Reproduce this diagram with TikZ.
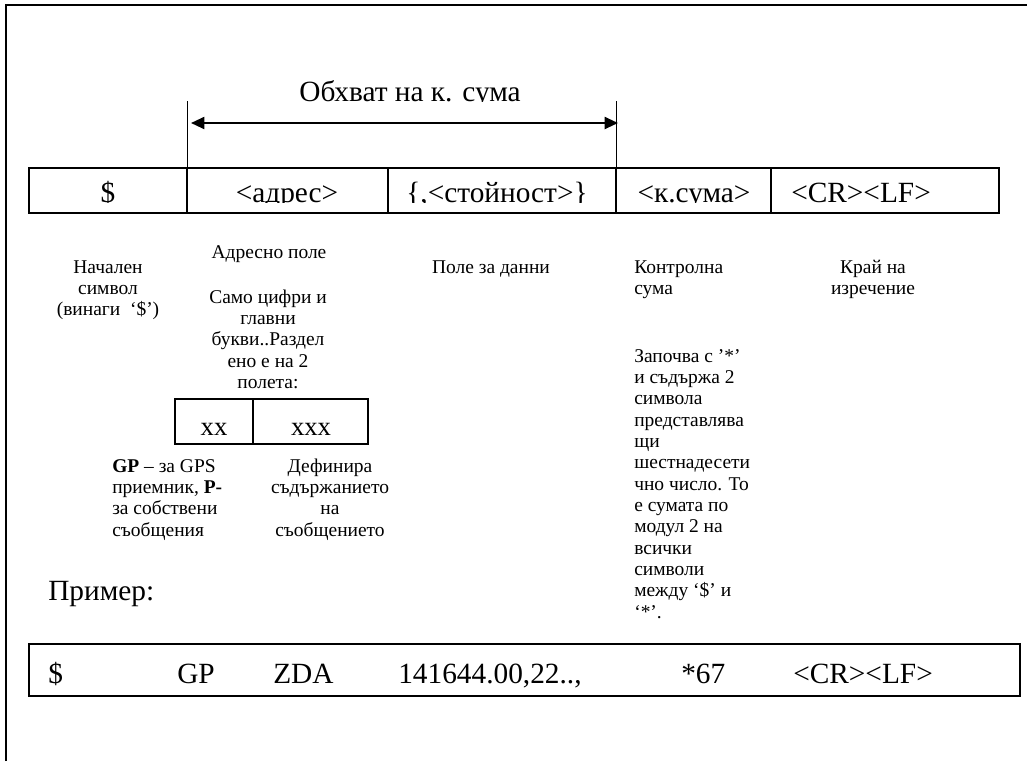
\documentclass[tikz,border=0pt]{standalone}
\usepackage{fontspec}
\setmainfont{Liberation Serif}
\usetikzlibrary{arrows.meta}

% font sizes used in the figure
\newcommand\fieldfont{\fontsize{22pt}{26pt}\selectfont}
\newcommand\bigfont{\fontsize{22pt}{26pt}\selectfont}
\newcommand\notefont{\fontsize{14.6pt}{16pt}\selectfont}
\newcommand\subfont{\fontsize{20pt}{24pt}\selectfont}

% multi-line blocks whose baseline is that of the first line
\newcommand\linesC[1]{\begin{tabular}[t]{@{}c@{}}#1\end{tabular}}
\newcommand\linesL[1]{\begin{tabular}[t]{@{}l@{}}#1\end{tabular}}

\tikzset{
  frameline/.style={line width=1.5pt},
  fieldbox/.style={line width=1.1pt},
  samplebox/.style={line width=1.5pt},
  spanline/.style={line width=0.75pt},
  spanarrow/.style={line width=1.5pt,
    {Triangle[length=10pt,width=9pt]}-{Triangle[length=10pt,width=9pt]}},
  fieldtext/.style={font=\fieldfont, inner sep=0pt, anchor=base},
  bigtext/.style={font=\bigfont, inner sep=0pt, anchor=base west},
  note/.style={font=\notefont, inner sep=0pt, anchor=base},
  subtext/.style={font=\subfont, inner sep=0pt, anchor=base},
}

\begin{document}
\begin{tikzpicture}[x=0.75pt,y=-0.75pt]
\useasboundingbox (0,0) rectangle (1034,761);

% page frame (open on the right and at the bottom)
\draw[frameline] (6,761) -- (6,5) -- (1027,5);

% checksum span marker
\coordinate (spanLtop) at (187,101);
\coordinate (spanLbot) at (187,168);
\coordinate (spanRtop) at (616,101);
\coordinate (spanRbot) at (616,168);
\coordinate (arrowL) at (191,123);
\coordinate (arrowR) at (618,123);
\draw[spanline] (spanLtop) -- (spanLbot);
\draw[spanline] (spanRtop) -- (spanRbot);
\draw[spanarrow] (arrowL) -- (arrowR);
\begin{scope}
  \clip (150,60) rectangle (700,101.5);
  \node[font=\bigfont, inner sep=0pt, anchor=base] (spanlabel) at (410,101) {Обхват на к. сума};
\end{scope}

% sentence fields
\draw[fieldbox] (29,168) rectangle (187,213);
\draw[fieldbox] (187,168) rectangle (388,213);
\draw[fieldbox] (388,168) rectangle (616,213);
\draw[fieldbox] (616,168) rectangle (771,213);
\draw[fieldbox] (771,168) rectangle (999,213);
\begin{scope}
  \clip (29,168) rectangle (999,202.5);
  \node[fieldtext] (fstart) at (108,202) {\$};
  \node[fieldtext] (faddr) at (287,202) {<адрес>};
  \node[fieldtext] (fdata) at (497,202) {\{,<стойност>\}};
  \node[fieldtext] (fsum) at (694,202) {<к.сума>};
  \node[fieldtext, anchor=base west] (fend) at (791,202) {<CR><LF>};
\end{scope}

% field descriptions
\node[note] (dstart) at (108,273) {\linesC{Начален\\символ\\(винаги~ ‘\$’)}};
\node[note] (daddr) at (269,258) {Адресно поле};
\node[note] (daddrinfo) at (268,303) {\linesC{Само цифри и\\главни\\букви..Раздел\\ено е на 2\\полета:}};
\node[note] (ddata) at (491,273) {Поле за данни};
\node[note, anchor=base west] (dsum) at (634,273) {\linesL{Контролна\\сума}};
\node[note, anchor=base west] (dsuminfo) at (634,362) {\linesL{Започва с ’*’\\и съдържа 2\\символа\\представлява\\щи\\шестнадесети\\чно число. То\\е сумата по\\модул 2 на\\всички\\символи\\между ‘\$’ и\\‘*’.}};
\node[note] (dend) at (873,273) {\linesC{Край на\\изречение}};

% address sub-fields
\draw[fieldbox] (175,399) rectangle (368,444);
\draw[line width=1.8pt] (253,399) -- (253,444);
\node[subtext] (subxx) at (214,435) {xx};
\node[subtext] (subxxx) at (311,435) {xxx};
\node[note, anchor=base west] (dxx) at (112,472) {\linesL{\textbf{GP} – за GPS\\приемник, \textbf{P-}\\за собствени\\съобщения}};
\node[note] (dxxx) at (330,472) {\linesC{Дефинира\\съдържанието\\на\\съобщението}};

% example sentence
\node[bigtext] (example) at (48,600) {Пример:};
\draw[samplebox] (29,644) rectangle (1020,696);
\node[bigtext] (exstart) at (48,683) {\$};
\node[bigtext] (exgp) at (177,683) {GP};
\node[bigtext] (exzda) at (273,683) {ZDA};
\node[bigtext] (exdata) at (398,683) {141644.00,22..,};
\node[bigtext] (exsum) at (681,683) {*67};
\node[bigtext] (exend) at (793,683) {<CR><LF>};
\end{tikzpicture}
\end{document}
